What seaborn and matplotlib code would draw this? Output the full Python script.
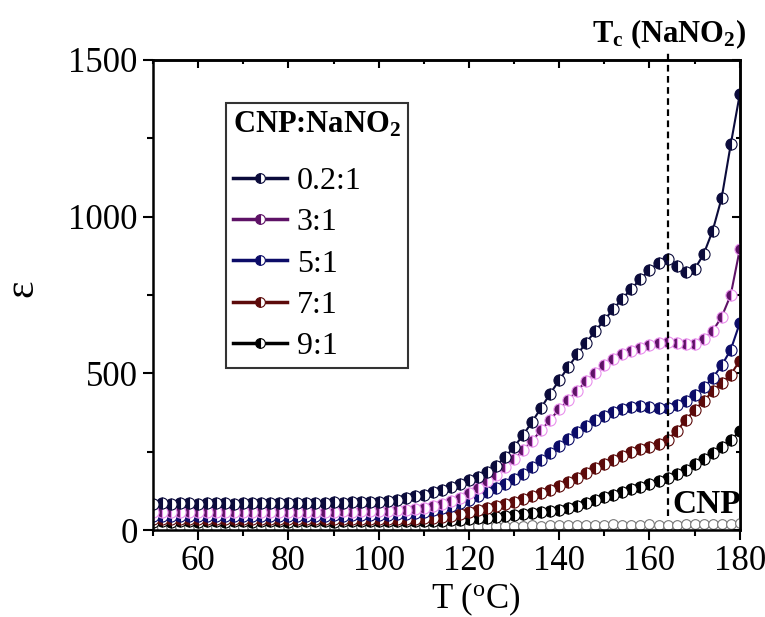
import numpy as np
import pandas as pd
import matplotlib
matplotlib.use('Agg')
import matplotlib.pyplot as plt
import seaborn as sb
from matplotlib.lines import Line2D

# temperature grid (every 2 degC)
temp = np.arange(50, 182, 2)

# permittivity
eps_02 = [84, 85, 83, 85, 86, 84, 85, 86, 85, 84, 86, 85, 86, 85, 87, 86, 85, 87, 86, 87, 88, 87, 88, 89, 89, 90,
          93, 97, 102, 107, 113, 120, 128, 137, 147, 158, 170, 185, 205, 232, 265, 303, 345, 390, 435, 478,
          520, 560, 598, 635, 670, 705, 738, 770, 800, 830, 852, 866, 842, 822, 832, 880, 955, 1060, 1230, 1390]
eps_3 = [57, 58, 57, 58, 58, 57, 58, 59, 58, 57, 58, 58, 59, 58, 58, 59, 58, 59, 59, 58, 59, 60, 59, 60, 60, 61,
         62, 63, 65, 68, 71, 76, 83, 92, 103, 118, 135, 155, 177, 200, 225, 255, 285, 318, 352, 385,
         415, 445, 475, 502, 525, 545, 560, 572, 582, 590, 597, 600, 598, 592, 595, 610, 635, 680, 750, 895]
eps_5 = [44, 45, 44, 46, 45, 44, 45, 46, 45, 44, 45, 46, 45, 45, 46, 45, 46, 45, 46, 46, 47, 46, 47, 47, 48, 48,
         49, 50, 52, 55, 58, 63, 69, 76, 85, 96, 108, 120, 133, 147, 162, 180, 200, 222, 245, 268,
         290, 312, 332, 350, 365, 377, 387, 393, 395, 393, 390, 389, 398, 412, 430, 455, 485, 525, 575, 660]
eps_7 = [34, 35, 34, 35, 35, 34, 35, 36, 35, 34, 35, 35, 36, 35, 35, 36, 35, 36, 35, 36, 36, 35, 36, 36, 36, 36,
         36, 36, 36, 36, 37, 38, 40, 44, 50, 57, 63, 69, 75, 82, 90, 98, 107, 117, 128, 140,
         152, 167, 183, 198, 211, 223, 236, 248, 258, 266, 275, 288, 315, 350, 383, 412, 442, 470, 496, 540]
eps_9 = [27, 28, 27, 28, 28, 27, 28, 28, 27, 28, 28, 27, 28, 28, 28, 27, 28, 28, 28, 28, 27, 28, 28, 28, 28, 28,
         28, 28, 28, 28, 28, 29, 30, 31, 33, 35, 37, 39, 42, 45, 48, 51, 54, 57, 60, 65,
         71, 78, 86, 95, 104, 113, 122, 130, 138, 147, 156, 166, 178, 192, 210, 228, 247, 266, 287, 315]
eps_cnp = [12, 11, 12, 12, 11, 12, 12, 11, 12, 12, 11, 12, 12, 12, 11, 12, 12, 12, 11, 12, 12, 13, 12, 12, 13, 12,
           13, 12, 13, 13, 12, 13, 13, 14, 13, 13, 14, 13, 14, 14, 13, 14, 15, 14, 15, 16,
           15, 16, 17, 16, 17, 18, 17, 16, 17, 18, 17, 16, 17, 18, 18, 19, 18, 19, 20, 22]

labels = ['0.2:1', '3:1', '5:1', '7:1', '9:1']
colors = ['#0b0b3b', '#5e1266', '#0c0c68', '#5c0a0a', '#000000']
edges = ['#0b0b3b', '#e890ec', '#0c0c68', '#5c0a0a', '#000000']
series = [eps_02, eps_3, eps_5, eps_7, eps_9]

plt.rcParams['font.family'] = ['Liberation Serif', 'DejaVu Serif']
plt.rcParams['mathtext.fontset'] = 'custom'
plt.rcParams['mathtext.rm'] = 'Liberation Serif'
plt.rcParams['mathtext.bf'] = 'Liberation Serif:bold'
plt.rcParams['mathtext.default'] = 'regular'

fig = plt.figure(figsize=(7.65, 6.17), dpi=100)
ax = fig.add_axes([0.2, 0.141, 0.767, 0.762])

# CNP first (bottom layer)
df = pd.DataFrame({'T': temp, 'eps': eps_cnp})
sb.lineplot(data=df, x='T', y='eps', ax=ax, color='#999999', marker='o', markersize=7,
            markerfacecolor='white', markeredgecolor='#777777', markeredgewidth=0.8,
            linewidth=1.0, legend=False)

handles = []
for lab, c, ec, vals in reversed(list(zip(labels, colors, edges, series))):
    df = pd.DataFrame({'T': temp, 'eps': vals})
    sb.lineplot(data=df, x='T', y='eps', ax=ax, color=c, marker='o', markersize=8,
                fillstyle='left', markerfacecolor=c, markerfacecoloralt='white',
                markeredgecolor=ec, markeredgewidth=0.8, linewidth=1.5, legend=False)
for lab, c, ec in zip(labels, colors, edges):
    handles.append(Line2D([], [], color=c, marker='o', markersize=7, fillstyle='left',
                          markerfacecolor=c, markerfacecoloralt='white',
                          markeredgecolor=c, markeredgewidth=0.8, linewidth=2.5, label=lab))

ax.set_xlim(50, 180)
ax.set_ylim(0, 1500)
ax.set_xticks([60, 80, 100, 120, 140, 160, 180])
ax.set_xticks(np.arange(50, 181, 10), minor=True)
ax.set_yticks([0, 500, 1000, 1500])
ax.set_yticks([250, 750, 1250], minor=True)
ax.tick_params(which='major', direction='out', length=7, width=1.5, labelsize=25, pad=4)
ax.tick_params(which='minor', direction='out', length=4, width=1.5)
ax.tick_params(axis='x', which='major', pad=4)
for s in ax.spines.values():
    s.set_linewidth(1.8)

# top/right inward ticks
top = ax.secondary_xaxis('top')
top.set_xticks([60, 80, 100, 120, 140, 160, 180])
top.set_xticks(np.arange(50, 181, 10), minor=True)
top.tick_params(which='both', direction='in', labeltop=False, width=1.5)
top.tick_params(which='major', length=6)
top.tick_params(which='minor', length=3)
right = ax.secondary_yaxis('right')
right.set_yticks([0, 500, 1000, 1500])
right.set_yticks([250, 750, 1250], minor=True)
right.tick_params(which='both', direction='in', labelright=False, width=1.5)
right.tick_params(which='major', length=6)
right.tick_params(which='minor', length=3)
top.spines['top'].set_linewidth(1.8)
right.spines['right'].set_linewidth(1.8)

ax.set_xlabel('T ($^{o}$C)', fontsize=25)
ax.xaxis.set_label_coords(0.55, -0.108)
ax.set_ylabel('ε', fontsize=30)
ax.yaxis.set_label_coords(-0.19, 0.515)

# transition line
ax.axvline(164.2, ymin=0.03, ymax=1.022, color='black', linestyle=(0, (3, 2)),
           linewidth=1.6, clip_on=False)
fig.text(0.875, 0.945, r'T$_\mathbf{c}$ (NaNO$_\mathbf{2}$)', fontsize=22, fontweight='bold',
         ha='center', va='center')
ax.text(172.7, 80, 'CNP', fontsize=24, fontweight='bold', ha='center', va='center')

leg = ax.legend(handles=handles, title=r'CNP:NaNO$_\mathbf{2}$', loc='upper left',
                bbox_to_anchor=(0.124, 0.909), borderaxespad=0, fontsize=23,
                title_fontproperties={'size': 22, 'weight': 'bold'},
                frameon=True, fancybox=False, edgecolor='black', handlelength=1.7,
                handletextpad=0.3, labelspacing=0.37, borderpad=0.22, alignment='left')
leg.get_frame().set_linewidth(1.5)
# wider gap between title and entries
leg._legend_box.sep = 20

fig.savefig('out.png', dpi=100)
